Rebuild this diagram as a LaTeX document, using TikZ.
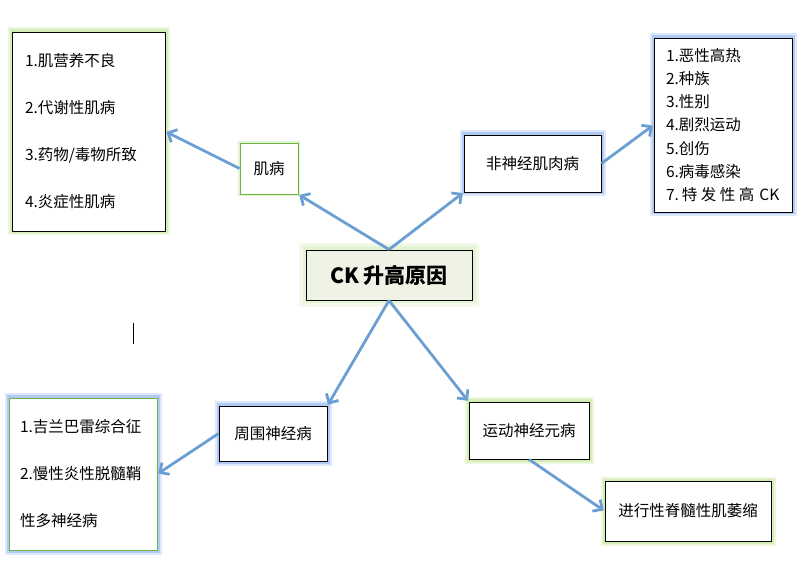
\documentclass[tikz,border=0pt]{standalone}
\usepackage{fontspec}
\setmainfont{Noto Sans CJK SC}
\usetikzlibrary{arrows.meta}
\definecolor{arrowblue}{HTML}{6B9FD3}
\definecolor{glowgreen}{HTML}{C5E59C}
\definecolor{glowblue}{HTML}{9DBDF2}
\definecolor{linegreen}{HTML}{6CB544}
\definecolor{ckfill}{HTML}{EEF3E6}
\tikzset{
  box/.style={draw=black, line width=0.9pt, fill=white, inner sep=0pt, font=\fontsize{15.5}{18}\selectfont},
  gglow/.style={preaction={draw=glowgreen, opacity=0.35, line width=9pt},
                preaction={draw=glowgreen, opacity=0.6, line width=5pt}},
  bglow/.style={preaction={draw=glowblue, opacity=0.35, line width=9pt},
                preaction={draw=glowblue, opacity=0.7, line width=5pt}},
  conn/.style={draw=arrowblue, line width=2.8pt, -{Straight Barb[length=7pt,width=14pt]}, shorten >=1pt},
}
\begin{document}
\begin{tikzpicture}[x=1pt,y=-1pt]
\useasboundingbox (0,0) rectangle (801,577);
% boxes
\node[box, gglow, minimum width=153, minimum height=199, text width=127, align=left,
  font=\fontsize{15.5}{47}\selectfont] (myo) at (88.5,131.5)
  {1.肌营养不良\\2.代谢性肌病\\3.药物/毒物所致\\4.炎症性肌病};
\node[box, draw=linegreen, preaction={draw=glowgreen, opacity=0.5, line width=4pt},
  minimum width=58, minimum height=51] (jb) at (269,168.5) {肌病};
\node[box, bglow, minimum width=137, minimum height=57] (fsj) at (532.5,163.5) {非神经肌肉病};
\node[box, bglow, minimum width=138, minimum height=174, text width=114, align=left,
  font=\fontsize{15.5}{23.2}\selectfont] (rl) at (723,125)
  {1.恶性高热\\2.种族\\3.性别\\4.剧烈运动\\5.创伤\\6.病毒感染\\\mbox{7.\hspace{3pt}特\hspace{3.5pt}发\hspace{3.5pt}性\hspace{3.5pt}高\hspace{5pt}CK}};
\node[box, fill=ckfill, preaction={draw=glowgreen!60, opacity=0.35, line width=14pt},
  preaction={draw=glowgreen!70, opacity=0.5, line width=7pt},
  minimum width=166, minimum height=50, font=\fontsize{21}{24}\selectfont\bfseries] (ck) at (389,275) {CK 升高原因};
\node[box, bglow, minimum width=108, minimum height=55] (zw) at (273,433.5) {周围神经病};
\node[box, draw=linegreen, bglow, minimum width=148, minimum height=152, text width=126, align=left,
  font=\fontsize{15.5}{47}\selectfont] (bl) at (83,474)
  {1.吉兰巴雷综合征\\2.慢性炎性脱髓鞘\\性多神经病};
\node[box, gglow, minimum width=120, minimum height=57] (yd) at (529,430.5) {运动神经元病};
\node[box, gglow, minimum width=166, minimum height=60] (jx) at (688,511) {进行性脊髓性肌萎缩};
% connectors
\draw[conn] (ck.north) -- (jb.south east);
\draw[conn] (ck.north) -- (fsj.south west);
\draw[conn] (jb.west) -- (myo.east);
\draw[conn] (fsj.east) -- (rl.west);
\draw[conn] (ck.south) -- (zw.north east);
\draw[conn] (ck.south) -- (yd.north west);
\draw[conn] (zw.west) -- (bl.east);
\draw[conn] (yd.south) -- (jx.west);
% cursor mark
\coordinate (c1) at (133,323);
\coordinate (c2) at (133,344);
\draw[line width=0.8pt] (c1) -- (c2);
\end{tikzpicture}
\end{document}
